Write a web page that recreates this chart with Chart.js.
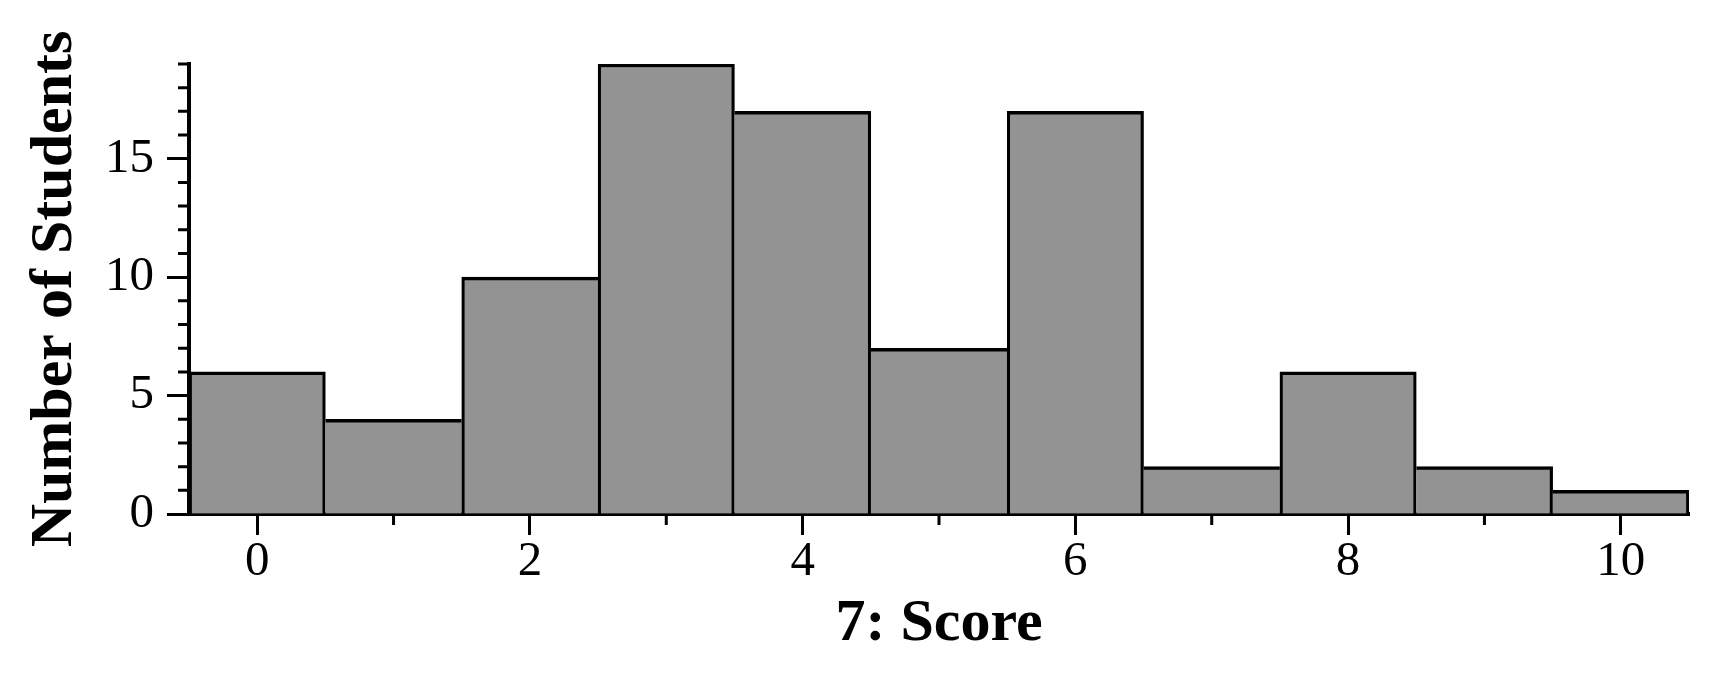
<!DOCTYPE html>
<html>
<head>
<meta charset="utf-8">
<script src="https://cdn.jsdelivr.net/npm/chart.js@4/dist/chart.umd.min.js"></script>
<style>
  html, body { margin: 0; padding: 0; background: #ffffff; }
  #wrap { width: 1733px; height: 688px; }
</style>
</head>
<body>
<div id="wrap"><canvas id="c" width="1733" height="688"></canvas></div>
<script>
// ---- data ----
const scores = [0, 1, 2, 3, 4, 5, 6, 7, 8, 9, 10];
const students = [6, 4, 10, 19, 17, 7, 17, 2, 6, 2, 1];
const xTickValues = [0, 1, 2, 3, 4, 5, 6, 7, 8, 9, 10];
const xLabelValues = [0, 2, 4, 6, 8, 10];
const yTickValues = [0, 1, 2, 3, 4, 5, 6, 7, 8, 9, 10, 11, 12, 13, 14, 15, 16, 17, 18, 19];
const yLabelValues = [0, 5, 10, 15];
const xTitle = '7: Score';
const yTitle = 'Number of Students';

const FONT = '"Liberation Serif", "Times New Roman", serif';
const EDGE = 3.2;

const minorTicks = {
  id: 'minorTicks',
  afterDraw(chart) {
    const ctx = chart.ctx;
    const xs = chart.scales.x, ys = chart.scales.y;
    ctx.save();
    ctx.strokeStyle = '#000';
    ctx.lineWidth = 3;
    ctx.beginPath();
    xTickValues.forEach(v => {
      if (xLabelValues.includes(v)) return;
      const px = xs.getPixelForValue(v);
      ctx.moveTo(px, xs.top);
      ctx.lineTo(px, xs.top + 11);
    });
    yTickValues.forEach(v => {
      if (yLabelValues.includes(v)) return;
      const py = ys.getPixelForValue(v);
      ctx.moveTo(ys.right, py);
      ctx.lineTo(ys.right - 11, py);
    });
    ctx.stroke();
    ctx.restore();
  }
};

// side border: the taller of two neighbouring bars carries the shared edge
function sideWidth(i, j) {
  if (j < 0 || j >= students.length) return EDGE;
  if (students[j] < students[i]) return EDGE;
  if (students[j] === students[i]) return EDGE / 2;
  return 0;
}

new Chart(document.getElementById('c'), {
  type: 'bar',
  data: {
    datasets: [{
      data: scores.map((s, i) => ({ x: s, y: students[i] })),
      backgroundColor: '#939393',
      borderColor: '#000000',
      borderWidth: (c) => ({
        top: 3.5,
        bottom: 0,
        left: sideWidth(c.dataIndex, c.dataIndex - 1),
        right: sideWidth(c.dataIndex, c.dataIndex + 1)
      }),
      borderSkipped: false,
      barPercentage: 1.0,
      categoryPercentage: 1.0
    }]
  },
  plugins: [minorTicks],
  options: {
    responsive: false,
    animation: false,
    layout: { padding: { top: 64, right: 44, bottom: 0, left: 0 } },
    plugins: { legend: { display: false }, tooltip: { enabled: false } },
    scales: {
      x: {
        type: 'linear',
        min: -0.5,
        max: 10.5,
        offset: false,
        afterBuildTicks(scale) { scale.ticks = xTickValues.map(v => ({ value: v })); },
        afterFit(scale) { scale.height = 174; },
        ticks: {
          autoSkip: false,
          maxRotation: 0,
          padding: 3,
          color: '#000',
          font: { family: FONT, size: 49, lineHeight: 1 },
          callback: (v) => xLabelValues.includes(v) ? String(v) : ''
        },
        grid: {
          display: true,
          offset: false,
          drawOnChartArea: false,
          drawTicks: true,
          tickLength: 21,
          tickWidth: 3,
          tickColor: (c) => (c.tick && xLabelValues.includes(c.tick.value)) ? '#000' : 'rgba(0,0,0,0)'
        },
        border: { display: true, color: '#000', width: 4 },
        title: {
          display: true,
          text: xTitle,
          color: '#000',
          font: { family: FONT, size: 60, weight: 'bold', lineHeight: 1 },
          padding: { top: 0, bottom: 34 }
        }
      },
      y: {
        type: 'linear',
        min: 0,
        max: 19,
        afterBuildTicks(scale) { scale.ticks = yTickValues.map(v => ({ value: v })); },
        afterFit(scale) { scale.width = 189; },
        ticks: {
          autoSkip: false,
          padding: 13,
          color: '#000',
          font: { family: FONT, size: 49, lineHeight: 1 },
          callback: (v) => yLabelValues.includes(v) ? String(v) : ''
        },
        grid: {
          display: true,
          drawOnChartArea: false,
          drawTicks: true,
          tickLength: 22,
          tickWidth: 3,
          tickColor: (c) => (c.tick && yLabelValues.includes(c.tick.value)) ? '#000' : 'rgba(0,0,0,0)'
        },
        border: { display: true, color: '#000', width: 4 },
        title: {
          display: true,
          text: yTitle,
          color: '#000',
          font: { family: FONT, size: 60, weight: 'bold', lineHeight: 1 },
          padding: { top: 25, bottom: 0 }
        }
      }
    }
  }
});
</script>
</body>
</html>
